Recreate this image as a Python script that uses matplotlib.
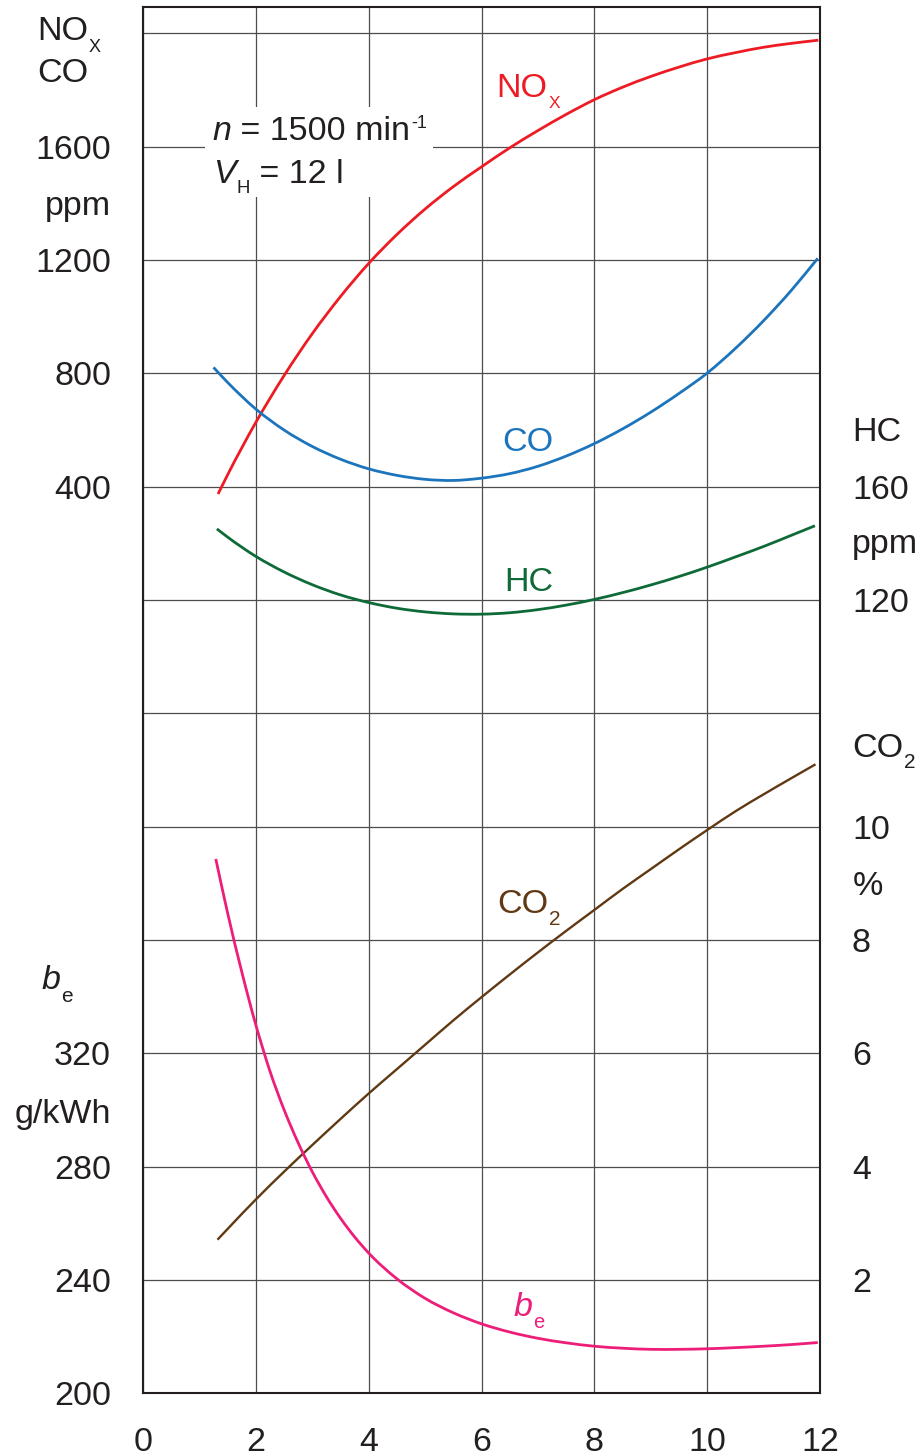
import numpy as np
import matplotlib
matplotlib.use("Agg")
import matplotlib.pyplot as plt
from matplotlib.patches import Rectangle, PathPatch
from matplotlib.path import Path
from matplotlib.ticker import FuncFormatter

plt.rcParams['font.family'] = ['Liberation Sans', 'DejaVu Sans']

#%% Data (x axis: 0..12, unlabeled load quantity)
nox_x = [1.33, 1.5, 2.0, 2.5, 3.0, 3.5, 4.0, 4.5, 5.0, 5.5, 6.0, 6.5, 7.0, 7.5,
         8.0, 8.5, 9.0, 9.5, 10.0, 10.5, 11.0, 11.5, 11.97]
nox_ppm = [374, 442, 627, 792, 940, 1071, 1188, 1290, 1380, 1459, 1529, 1596, 1657,
           1714, 1766, 1810, 1848, 1881, 1910, 1932, 1951, 1965, 1976]

co_x = [1.25, 1.5, 2.0, 2.5, 3.0, 3.5, 4.0, 4.5, 5.0, 5.5, 6.0, 6.5, 7.0, 7.5,
        8.0, 8.5, 9.0, 9.5, 10.0, 10.5, 11.0, 11.5, 11.96]
co_ppm = [821, 768, 674, 600, 542, 497, 463, 440, 426, 422, 430, 446, 472, 508,
          552, 604, 663, 729, 801, 888, 986, 1095, 1206]

hc_x = [1.31, 1.5, 2.0, 2.5, 3.0, 3.5, 4.0, 4.5, 5.0, 5.5, 6.0, 6.5, 7.0, 7.5,
        8.0, 8.5, 9.0, 9.5, 10.0, 10.5, 11.0, 11.5, 11.91]
hc_ppm = [145.1, 142.2, 135.4, 129.9, 125.4, 121.8, 119.1, 117.1, 115.8, 115.1, 115.0,
          115.5, 116.6, 118.2, 120.2, 122.6, 125.3, 128.3, 131.6, 135.2, 138.9, 142.9, 146.2]

co2_x = [1.32, 1.5, 2.0, 2.5, 3.0, 3.5, 4.0, 4.5, 5.0, 5.5, 6.0, 6.5, 7.0, 7.5,
         8.0, 8.5, 9.0, 9.5, 10.0, 10.5, 11.0, 11.5, 11.92]
co2_pct = [2.71, 2.90, 3.42, 3.91, 4.38, 4.84, 5.29, 5.72, 6.15, 6.58, 6.99, 7.39, 7.78,
           8.16, 8.53, 8.90, 9.25, 9.60, 9.94, 10.27, 10.57, 10.86, 11.10]

be_x = [1.29, 1.5, 1.75, 2.0, 2.25, 2.5, 2.75, 3.0, 3.25, 3.5, 3.75, 4.0, 4.5, 5.0,
        5.5, 6.0, 6.5, 7.0, 7.5, 8.0, 8.5, 9.0, 9.5, 10.0, 10.5, 11.0, 11.5, 11.96]
be_gkwh = [388.6, 369.5, 348.8, 330, 313.7, 300.1, 288.4, 278.2, 269.4, 261.8, 255.2,
           249.5, 240.4, 233.5, 228.4, 224.5, 221.6, 219.4, 217.8, 216.6, 215.9, 215.5,
           215.5, 215.7, 216.1, 216.6, 217.2, 217.9]

x_ticks = [0, 2, 4, 6, 8, 10, 12]
nox_ticks = [400, 800, 1200, 1600]
hc_ticks = [120, 160]
co2_ticks = [2, 4, 6, 8, 10]
be_ticks = [200, 240, 280, 320]

#%% Style
INK = '#231F20'
RED = '#ED1C24'
BLUE = '#1C75BC'
GREEN = '#0E6B38'
BROWN = '#603913'
PINK = '#ED1E79'
FS = 24.5

top = 12.233  # chart height in grid steps (12 steps + small margin)

fig = plt.figure(figsize=(9.22, 14.56), dpi=100)
ax = fig.add_axes([0.1551, 0.0431, 0.7343, 0.9521])

ax.set_xlim(0, 12)
ax.set_ylim(400 * (0 - 7), 400 * (top - 7))
ax.set_xticks(x_ticks)
ax.set_yticks(np.arange(-2400, 2001, 400))
ax.yaxis.set_major_formatter(FuncFormatter(
    lambda v, p: f'{v:.0f}' if v in nox_ticks else ''))
ax.grid(True, color='#4d4d4d', lw=0.9)
ax.set_axisbelow(True)
ax.tick_params(length=0, labelsize=FS, colors=INK)
ax.tick_params(axis='x', pad=24)
ax.tick_params(axis='y', pad=23)
for s in ax.spines.values():
    s.set_linewidth(1.5)
    s.set_color(INK)

hc_ax = ax.twinx()
hc_ax.set_ylim(40 * (0 - 4), 40 * (top - 4))
hc_ax.set_yticks(hc_ticks)

co2_ax = ax.twinx()
co2_ax.set_ylim(0, 2 * top)
co2_ax.set_yticks(co2_ticks)

be_ax = ax.twinx()
be_ax.yaxis.tick_left()
be_ax.set_ylim(200, 200 + 40 * top)
be_ax.set_yticks(be_ticks)

for a in (hc_ax, co2_ax, be_ax):
    a.tick_params(length=0, labelsize=FS, colors=INK, pad=23)
    for s in a.spines.values():
        s.set_visible(False)


#%% Curves: smooth cubic (Hermite -> Bezier) through the read points
def smooth_line(a, xs, ys, color, lw):
    x = np.asarray(xs, float)
    y = np.asarray(ys, float)
    m = np.gradient(y, x)
    verts = [(x[0], y[0])]
    codes = [Path.MOVETO]
    for i in range(len(x) - 1):
        h = x[i + 1] - x[i]
        verts += [(x[i] + h / 3, y[i] + m[i] * h / 3),
                  (x[i + 1] - h / 3, y[i + 1] - m[i + 1] * h / 3),
                  (x[i + 1], y[i + 1])]
        codes += [Path.CURVE4] * 3
    a.add_patch(PathPatch(Path(verts, codes), fill=False, edgecolor=color, lw=lw,
                          capstyle='butt', joinstyle='round', zorder=2))


smooth_line(ax, nox_x, nox_ppm, RED, 2.0)
smooth_line(ax, co_x, co_ppm, BLUE, 2.0)
smooth_line(hc_ax, hc_x, hc_ppm, GREEN, 2.0)
smooth_line(co2_ax, co2_x, co2_pct, BROWN, 1.7)
smooth_line(be_ax, be_x, be_gkwh, PINK, 2.0)


#%% Text helpers
def label(a, x, y, s, color=INK, size=FS, style='normal', ha='left'):
    return a.text(x, y, s, color=color, fontsize=size, style=style, ha=ha,
                  va='baseline', clip_on=False)


def attach(a, prev, s, dx, dy, size, color=INK, style='normal', ycoord=None):
    coords = prev if ycoord is None else (prev, ycoord)
    return a.annotate(s, xy=(1, 0), xycoords=coords, xytext=(dx, dy),
                      textcoords='offset points', fontsize=size, color=color,
                      style=style, ha='left', va='bottom', annotation_clip=False)


# curve labels
t = label(ax, 6.27, 1774, 'NO', RED)
attach(ax, t, 'X', 0.5, -4.7, 12.5, RED)
label(ax, 6.375, 527, 'CO', BLUE)
label(hc_ax, 6.40, 123.3, 'HC', GREEN)
t = label(co2_ax, 6.28, 8.476, 'CO', BROWN)
attach(co2_ax, t, '2', 0.5, -6.7, 15, BROWN)
t = label(be_ax, 6.56, 227.3, 'b', PINK, style='italic')
attach(be_ax, t, 'e', 0.5, -6.9, 14.5, PINK)

# axis titles, left
t = label(ax, -1.88, 1977, 'NO')
attach(ax, t, 'X', 0.5, -6.3, 13)
label(ax, -1.88, 1828, 'CO')
label(ax, -0.572, 1360, 'ppm', ha='right')
t = label(be_ax, -1.795, 342.7, 'b', style='italic')
attach(be_ax, t, 'e', 0.5, -7.2, 15)
label(be_ax, -0.572, 295.5, 'g/kWh', ha='right')

# axis titles, right
label(hc_ax, 12.572, 176, 'HC')
label(hc_ax, 12.572, 136.6, 'ppm')
t = label(co2_ax, 12.572, 11.23, 'CO')
attach(co2_ax, t, '2', 0.5, -6.0, 15)
label(co2_ax, 12.572, 8.8, '%')

# operating point box
ax.add_patch(Rectangle((0.0916, 0.8629), 0.3368, 0.0649, transform=ax.transAxes,
                       facecolor='white', edgecolor='none', zorder=1))
t = label(ax, 1.228, 1623.7, 'n', style='italic')
t = attach(ax, t, ' = 1500 min', 0, 0, FS)
attach(ax, t, '-1', 1, 10.7, 13)
tv = label(ax, 1.246, 1473, 'V', style='italic')
th = attach(ax, tv, 'H', 0.5, -5.3, 13.4)
attach(ax, th, ' = 12 l', 0, 0, FS, ycoord=tv)

fig.savefig('out.png', dpi=100)
